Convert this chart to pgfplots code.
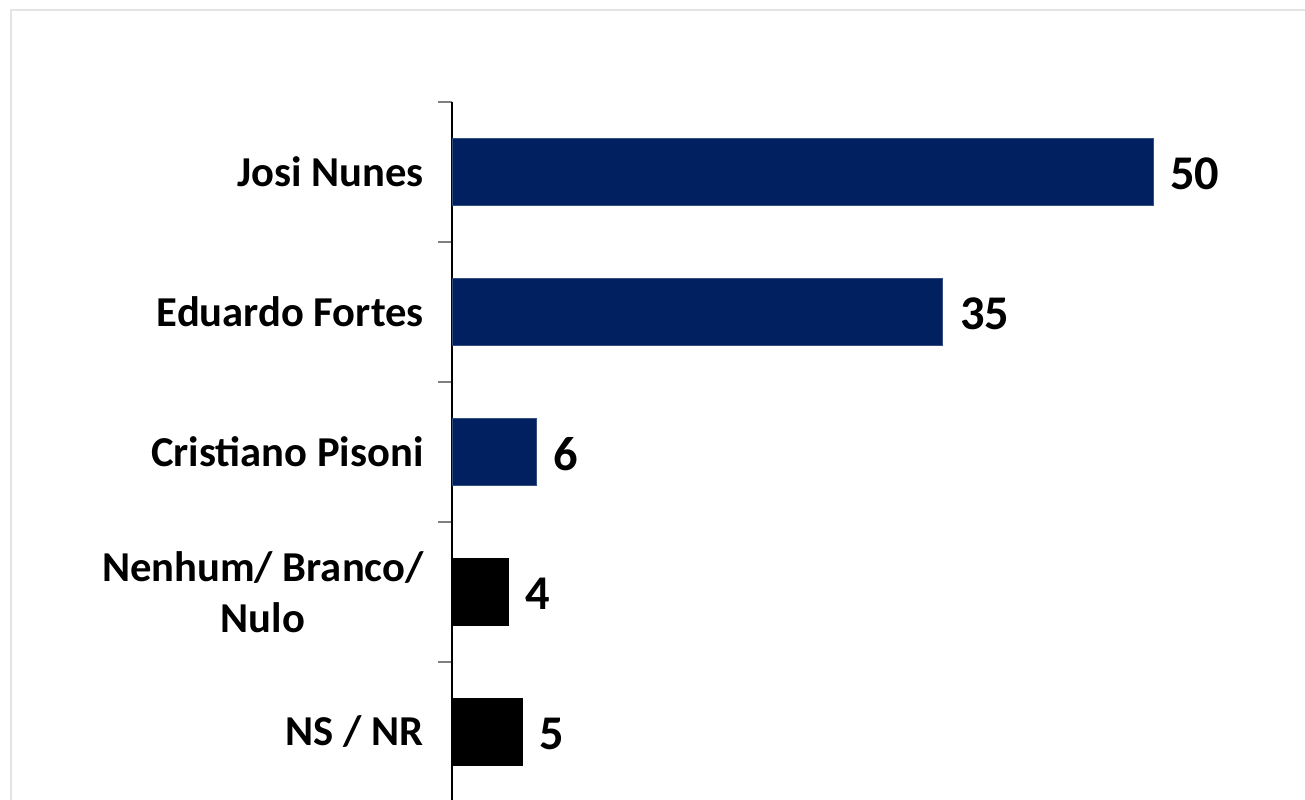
\documentclass[border=0pt]{standalone}
\usepackage{pgfplots}
\pgfplotsset{compat=1.18}
\usepackage{fontspec}
\setmainfont{Carlito}
\definecolor{navy}{RGB}{0,32,96}
\definecolor{framegray}{RGB}{228,228,228}
\begin{document}
\begin{tikzpicture}
\useasboundingbox (0,0) rectangle (652.5bp,400bp);
\draw[framegray, line width=0.7bp] (5.5bp,-5bp) -- (5.5bp,395bp) -- (660bp,395bp);
\begin{axis}[
  at={(226bp,349bp)}, anchor=north west,
  scale only axis, width=420.6bp, height=349bp,
  xmin=0, xmax=60,
  ymin=-0.5, ymax=4.4857,
  y dir=reverse,
  axis x line=none,
  axis y line*=left,
  axis line style={black, line width=0.6bp, -},
  xbar, bar width=33.5bp, bar shift=0pt,
  ytick={0,1,2,3,4},
  yticklabels={Josi Nunes, Eduardo Fortes, Cristiano Pisoni, {Nenhum/ Branco/\\Nulo}, NS / NR},
  minor ytick={-0.5,0.5,1.5,2.5,3.5},
  tick align=outside,
  major tick length=0pt,
  minor tick length=7bp,
  minor tick style={draw=gray, line width=0.8bp},
  yticklabel style={font=\fontsize{21.3bp}{25.5bp}\selectfont\bfseries, align=center, inner sep=0pt, xshift=-14bp},
  /pgf/number format/assume math mode=true,
  nodes near coords,
  every node near coord/.append style={font=\fontsize{24.2bp}{26bp}\selectfont\bfseries, anchor=west, inner sep=0pt, xshift=8.5bp, yshift=-1bp, black},
  clip=false,
]
\addplot[fill=navy, draw=navy!80!white, line width=0.4bp] coordinates {(50,0) (35,1) (6,2)};
\addplot[fill=black, draw=black] coordinates {(4,3) (5,4)};
\end{axis}
\end{tikzpicture}
\end{document}
